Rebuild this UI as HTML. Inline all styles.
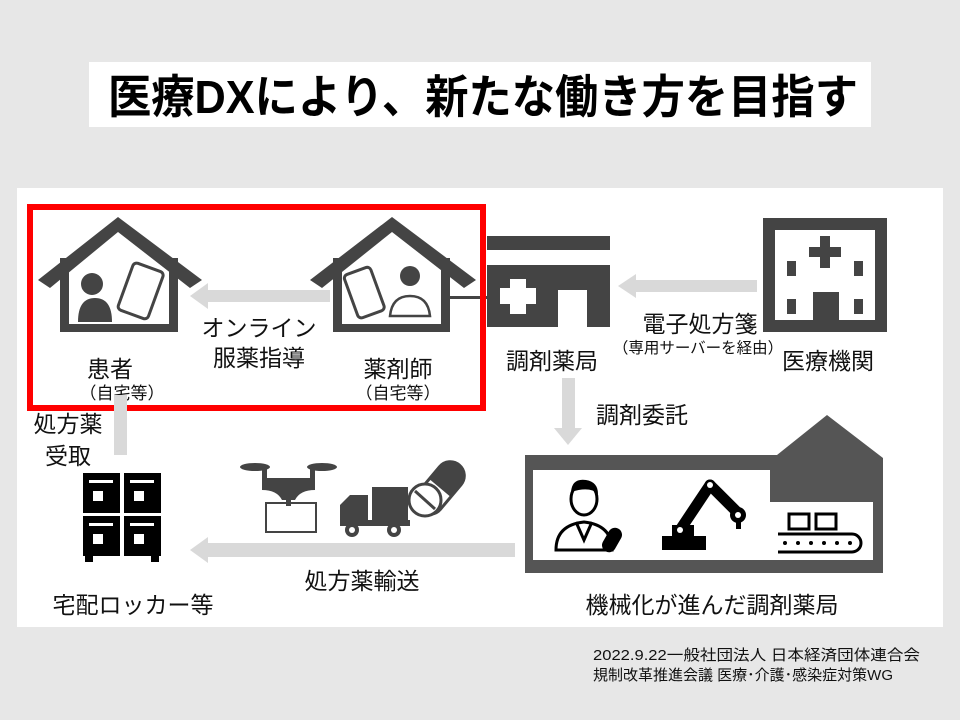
<!DOCTYPE html>
<html><head><meta charset="utf-8"><style>
html,body{margin:0;padding:0;background:#e7e7e7;}
svg{display:block;}
text{font-family:"Liberation Sans","Noto Sans CJK JP",sans-serif;}
</style></head><body>
<svg width="960" height="720" viewBox="0 0 960 720" xmlns="http://www.w3.org/2000/svg">
<rect x="0" y="0" width="960" height="720" fill="#e7e7e7"/>
<rect x="89" y="62" width="782" height="65" fill="#fff"/>
<text x="108" y="113" font-size="46" font-weight="bold" fill="#000" textLength="750" lengthAdjust="spacingAndGlyphs">医療DXにより、新たな働き方を目指す</text>
<rect x="17" y="188" width="926" height="439" fill="#fff"/>

<!-- patient house -->
<g fill="#444">
<polygon points="38,280 118,217 202,280 190,288 118,232 50,288"/>
<rect x="60" y="258" width="9" height="74"/>
<rect x="169" y="258" width="9" height="74"/>
<rect x="60" y="324" width="118" height="8"/>
<circle cx="92" cy="284" r="11"/>
<path d="M78,322 Q78,298 95,298 Q112,298 112,322 Z"/>
<g transform="rotate(20 141 290)"><rect x="125" y="266" width="32" height="50" rx="4" fill="none" stroke="#444" stroke-width="3"/></g>
</g>
<polygon points="330,290 208,290 208,283 190,296 208,309 208,302 330,302" fill="#d9d9d9"/>
<!-- pharmacist house -->
<g fill="#444">
<polygon points="310,280 392,217 476,280 464,288 392,232 322,288"/>
<rect x="333" y="258" width="9" height="74"/>
<rect x="441" y="258" width="9" height="74"/>
<rect x="333" y="324" width="117" height="8"/>
<rect x="450" y="296" width="37" height="3"/>
<g transform="rotate(-20 363 292)"><rect x="350" y="270" width="28" height="46" rx="4" fill="none" stroke="#444" stroke-width="3"/></g>
<circle cx="410" cy="276" r="10"/>
<path d="M390,316 Q392,296 410,296 Q428,296 430,316 Z" fill="none" stroke="#444" stroke-width="2.5"/>
</g>
<rect x="30" y="207" width="453" height="201" fill="none" stroke="#f00" stroke-width="6"/>
<text x="259" y="336" font-size="23" text-anchor="middle" fill="#111">オンライン</text>
<text x="259" y="366" font-size="23" text-anchor="middle" fill="#111">服薬指導</text>
<text x="110" y="377" font-size="23" text-anchor="middle" fill="#111">患者</text>
<text x="122" y="399" font-size="17" text-anchor="middle" fill="#111">（自宅等）</text>
<text x="398" y="377" font-size="23" text-anchor="middle" fill="#111">薬剤師</text>
<text x="398" y="399" font-size="17" text-anchor="middle" fill="#111">（自宅等）</text>

<!-- pharmacy -->
<g fill="#444">
<rect x="487" y="236" width="123" height="14"/>
<path d="M487,265 H610 V327 H587 V290 H558 V327 H487 Z"/>
</g>
<path d="M510,279 h16 v9 h10 v16 h-10 v10 h-16 v-10 h-10 v-16 h10 Z" fill="#fff"/>
<polygon points="757,280 636,280 636,274 618,286 636,298 636,292 757,292" fill="#d9d9d9"/>
<rect x="769" y="224" width="112" height="102" fill="none" stroke="#444" stroke-width="12"/>
<g fill="#444">
<rect x="820" y="236" width="10" height="32"/><rect x="809" y="247" width="32" height="10"/>
<rect x="787" y="261" width="9" height="15"/><rect x="854" y="261" width="9" height="15"/>
<rect x="787" y="299" width="9" height="15"/><rect x="854" y="299" width="9" height="15"/>
<rect x="813" y="292" width="26" height="34"/>
</g>
<text x="700" y="332" font-size="23" text-anchor="middle" fill="#111">電子処方箋</text>
<text x="698" y="353" font-size="15.5" text-anchor="middle" fill="#111">（専用サーバーを経由）</text>
<text x="552" y="369" font-size="23" text-anchor="middle" fill="#111">調剤薬局</text>
<text x="828" y="369" font-size="23" text-anchor="middle" fill="#111">医療機関</text>

<polygon points="562,378 575,378 575,428 582,428 568,445 554,428 562,428" fill="#d9d9d9"/>
<text x="642" y="423" font-size="23" text-anchor="middle" fill="#111">調剤委託</text>

<rect x="114" y="395" width="13" height="60" fill="#d9d9d9"/>
<text x="68" y="432" font-size="23" text-anchor="middle" fill="#111">処方薬</text>
<text x="68" y="464" font-size="23" text-anchor="middle" fill="#111">受取</text>
<g fill="#000">
<rect x="83" y="473" width="37" height="40"/><rect x="124" y="473" width="37" height="40"/>
<rect x="83" y="516" width="37" height="40"/><rect x="124" y="516" width="37" height="40"/>
<rect x="85" y="556" width="8" height="6"/><rect x="151" y="556" width="8" height="6"/>
</g>
<g fill="#fff">
<rect x="89" y="480" width="24" height="3"/><rect x="130" y="480" width="24" height="3"/>
<rect x="93" y="491" width="10" height="10"/><rect x="134" y="491" width="10" height="10"/>
<rect x="89" y="523" width="24" height="3"/><rect x="130" y="523" width="24" height="3"/>
<rect x="93" y="534" width="10" height="10"/><rect x="134" y="534" width="10" height="10"/>
</g>
<text x="133" y="613" font-size="23" text-anchor="middle" fill="#111">宅配ロッカー等</text>

<g fill="#444">
<ellipse cx="255" cy="467" rx="15" ry="4"/><ellipse cx="322" cy="467" rx="15" ry="4"/>
<rect x="262" y="467" width="5" height="14"/><rect x="310" y="467" width="5" height="14"/>
<path d="M262,478 H315 V490 Q300,490 295,500 H282 Q277,490 262,490 Z"/>
<rect x="286" y="498" width="5" height="8"/>
</g>
<rect x="266" y="503" width="50" height="29" fill="none" stroke="#444" stroke-width="2"/>
<g fill="#444">
<rect x="372" y="487" width="36" height="38"/>
<path d="M340,525 V505 L350,495 H368 V525 Z"/>
<rect x="340" y="520" width="70" height="6"/>
<circle cx="352" cy="530" r="7"/><circle cx="394" cy="530" r="7"/>
</g>
<circle cx="352" cy="530" r="3" fill="#fff"/><circle cx="394" cy="530" r="3" fill="#fff"/>
<g transform="rotate(40 440 488)"><rect x="426" y="458" width="28" height="60" rx="14" fill="#fff" stroke="#444" stroke-width="3"/><path d="M426,488 V472 A14,14 0 0 1 454,472 V488 Z" fill="#444"/></g>
<circle cx="425" cy="500" r="16" fill="#fff" stroke="#444" stroke-width="3"/>
<line x1="415" y1="491" x2="435" y2="509" stroke="#444" stroke-width="3"/>
<polygon points="515,543 208,543 208,537 190,550 208,563 208,557 515,557" fill="#d9d9d9"/>
<text x="362" y="589" font-size="23" text-anchor="middle" fill="#111">処方薬輸送</text>

<path d="M525,455 H777 L827,415 L883,458 V573 H525 Z" fill="#555"/>
<rect x="533" y="470" width="237" height="90" fill="#fff"/>
<rect x="770" y="502" width="103" height="58" fill="#fff"/>
<g fill="none" stroke="#000" stroke-width="3">
<ellipse cx="584" cy="499" rx="13" ry="16"/>
<path d="M556,550 Q556,525 584,522 Q612,525 612,550 Z"/>
<path d="M576,522 L584,540 L592,522"/>
</g>
<path d="M571,492 Q572,478 586,480 Q598,482 598,494 Q590,486 571,492 Z" fill="#000"/>
<g transform="rotate(30 612 540)"><rect x="605" y="527" width="14" height="26" rx="7" fill="#000"/></g>
<g stroke="#000" stroke-linecap="round" fill="none">
<line x1="680" y1="530" x2="710" y2="485" stroke-width="11"/>
<line x1="710" y1="485" x2="738" y2="513" stroke-width="11"/>
</g>
<rect x="662" y="536" width="44" height="14" fill="#000"/>
<rect x="672" y="525" width="22" height="14" fill="#000"/>
<circle cx="738" cy="515" r="8" fill="#000"/><rect x="736" y="520" width="5" height="9" fill="#000"/>
<circle cx="710" cy="485" r="3" fill="#fff"/><circle cx="680" cy="530" r="3" fill="#fff"/><circle cx="738" cy="515" r="3" fill="#fff"/>
<g fill="none" stroke="#000" stroke-width="3">
<rect x="789" y="514" width="20" height="15"/><rect x="816" y="514" width="20" height="15"/>
<path d="M778,534 H852 A9,9 0 0 1 852,552 H778"/>
</g>
<g fill="#000"><circle cx="785" cy="543" r="2"/><circle cx="798" cy="543" r="2"/><circle cx="811" cy="543" r="2"/><circle cx="824" cy="543" r="2"/><circle cx="837" cy="543" r="2"/><circle cx="850" cy="543" r="2"/></g>
<text x="712" y="613" font-size="23" text-anchor="middle" fill="#111">機械化が進んだ調剤薬局</text>

<text x="593" y="660" font-size="15" fill="#111" textLength="327" lengthAdjust="spacingAndGlyphs">2022.9.22一般社団法人 日本経済団体連合会</text>
<text x="593" y="680" font-size="15" fill="#111" textLength="300" lengthAdjust="spacingAndGlyphs">規制改革推進会議 医療･介護･感染症対策WG</text>
</svg>
</body></html>
